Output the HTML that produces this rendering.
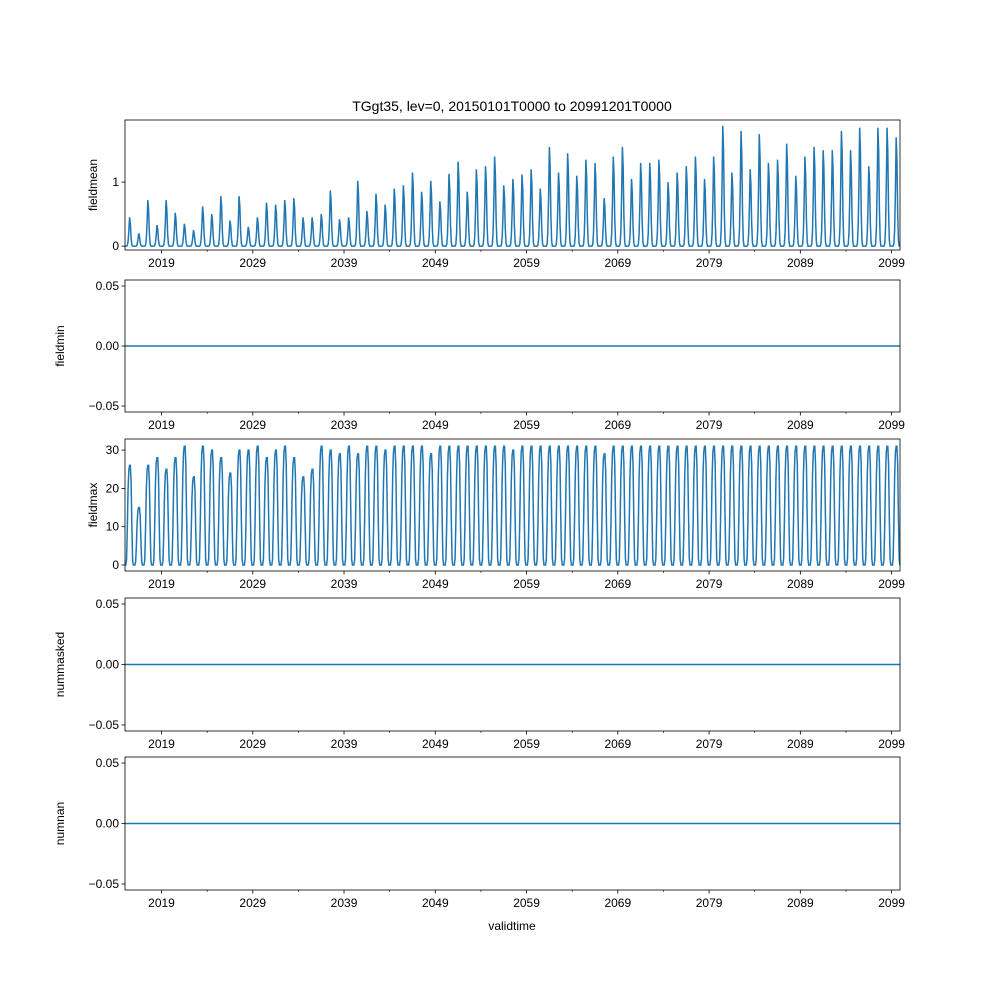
<!DOCTYPE html>
<html><head><meta charset="utf-8"><style>
body{margin:0;background:#fff}
svg{font-family:"Liberation Sans",sans-serif}
</style></head><body>
<svg id="chart" width="1000" height="1000"></svg>
<script>
const years=[];for(let y=2015;y<=2099;y++)years.push(y);
const meanPeaks=[0.45,0.2,0.72,0.33,0.72,0.52,0.35,0.25,0.62,0.5,0.78,0.4,0.78,0.3,0.45,0.68,0.65,0.72,0.75,0.45,0.45,0.5,0.87,0.42,0.45,1.02,0.55,0.82,0.65,0.9,0.95,1.15,0.85,1.02,0.7,1.13,1.32,0.85,1.2,1.25,1.4,0.95,1.05,1.12,1.2,0.9,1.55,1.15,1.45,1.1,1.35,1.3,0.75,1.4,1.55,1.05,1.3,1.3,1.35,1.0,1.15,1.25,1.4,1.05,1.4,1.88,1.15,1.8,1.2,1.75,1.3,1.35,1.6,1.1,1.4,1.55,1.5,1.5,1.8,1.5,1.85,1.25,1.85,1.85,1.7];
const maxPeaks=[26,15,26,28,25,28,31,23,31,30,28,24,30,30,31,28,30,31,28,23,25,31,30,29,31,29,31,31,30,31,31,31,31,29,31,31,31,31,31,31,31,31,30,31,31,31,31,31,31,31,31,31,29,31,31,31,31,31,31,31,31,31,31,31,31,31,31,31,31,31,31,31,31,31,31,31,31,31,31,31,31,31,31,31,31];
const meanProfile=[0,0,0,0.02,0.15,0.5,1,0.8,0.3,0.05,0,0];
const maxProfile=[0,0,0.05,0.35,0.75,0.95,1,1,0.85,0.4,0.05,0];
const xTicks=[2019,2029,2039,2049,2059,2069,2079,2089,2099];
const NS="http://www.w3.org/2000/svg";
const svg=document.getElementById('chart');
function el(t,a,p){const e=document.createElementNS(NS,t);for(const k in a)e.setAttribute(k,a[k]);(p||svg).appendChild(e);return e;}
const L=125,R=900;
const xs=v=>L+(v-2015)/(2099.92-2015)*(R-L);
const t=el('text',{x:512,y:111,'text-anchor':'middle','font-size':14});

t.textContent='TGgt35, lev=0, 20150101T0000 to 20991201T0000';
const panels=[
 {name:'fieldmean',top:120,bot:250,ymin:-0.06,ymax:1.97,ticks:[0,1],lab:v=>String(v),peaks:meanPeaks,prof:meanProfile},
 {name:'fieldmin',top:280,bot:412,ymin:-0.055,ymax:0.055,ticks:[-0.05,0,0.05],lab:v=>v.toFixed(2).replace('-','−'),peaks:null},
 {name:'fieldmax',top:439,bot:571,ymin:-1.57,ymax:32.9,ticks:[0,10,20,30],lab:v=>String(v),peaks:maxPeaks,prof:maxProfile},
 {name:'nummasked',top:598,bot:731,ymin:-0.055,ymax:0.055,ticks:[-0.05,0,0.05],lab:v=>v.toFixed(2).replace('-','−'),peaks:null},
 {name:'numnan',top:757,bot:890,ymin:-0.055,ymax:0.055,ticks:[-0.05,0,0.05],lab:v=>v.toFixed(2).replace('-','−'),peaks:null}
];
panels.forEach(p=>{
 const g=el('g',{});
 
 const ys=v=>p.bot-(v-p.ymin)/(p.ymax-p.ymin)*(p.bot-p.top);
 let pts=[];
 if(p.peaks){
  p.peaks.forEach((pk,i)=>{p.prof.forEach((f,m)=>{pts.push(xs(years[i]+m/12).toFixed(2)+','+ys(pk*f).toFixed(2));});});
 } else {pts=[xs(2015)+','+ys(0),xs(2099.92)+','+ys(0)];}
 const line=el('polyline',{points:pts.join(' '),fill:'none',stroke:'#1f77b4','stroke-width':1.5},g);
 
 const fr=el('rect',{x:L,y:p.top,width:R-L,height:p.bot-p.top,fill:'none',stroke:'#000','stroke-width':0.8},g);
 
 p.ticks.forEach(v=>{const y=ys(v);el('line',{x1:L-3.5,x2:L,y1:y,y2:y,stroke:'#000','stroke-width':0.8},g);
  const tx=el('text',{x:L-6,y:y+4,'text-anchor':'end','font-size':12},g);
  tx.textContent=p.lab(v);});
 xTicks.forEach(v=>{const x=xs(v);el('line',{x1:x,x2:x,y1:p.bot,y2:p.bot+3.5,stroke:'#000','stroke-width':0.8},g);
  const tx=el('text',{x:x,y:p.bot+17,'text-anchor':'middle','font-size':12},g);
  tx.textContent=v;});
 for(let v=2024;v<=2094;v+=10){const x=xs(v);el('line',{x1:x,x2:x,y1:p.bot,y2:p.bot+2,stroke:'#000','stroke-width':0.6},g);}
 const yl=el('text',{x:0,y:0,'text-anchor':'middle','font-size':12,transform:`translate(${p.name==='fieldmean'||p.name==='fieldmax'?97:64},${(p.top+p.bot)/2}) rotate(-90)`},g);
 yl.textContent=p.name;
});
const xl=el('text',{x:512,y:930,'text-anchor':'middle','font-size':12});
xl.textContent='validtime';
</script>
</body></html>
